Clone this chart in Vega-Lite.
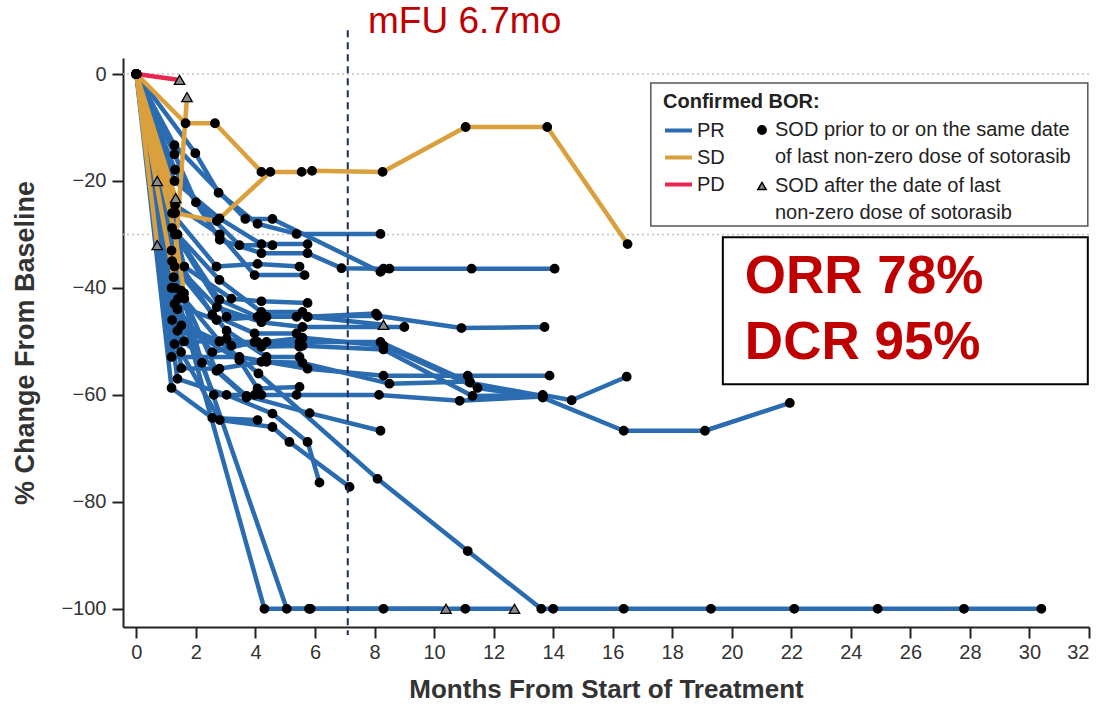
{
"$schema":"https://vega.github.io/schema/vega-lite/v6.json",
"width":966,"height":569,
"autosize":{"type":"none"},
"padding":{"left":123,"top":58,"right":12,"bottom":77},
"background":"white",
"config":{
 "view":{"stroke":null},
 "font":"Liberation Sans",
 "axis":{"domainColor":"#222","domainWidth":2,"tickColor":"#222","tickWidth":2,"tickSize":11,"labelFont":"Liberation Sans","labelFontSize":20,"labelColor":"#333","titleFont":"Liberation Sans","titleFontWeight":"bold","titleColor":"#333","grid":false},
 "legend":{"labelFont":"Liberation Sans","labelFontSize":20,"labelColor":"#222","labelLimit":0,"titleFont":"Liberation Sans","titleFontSize":20,"titleFontWeight":"bold","titleColor":"#222"},
 "style":{"guide-label":{"lineHeight":27}}
},
"datasets":{"spider":[
{"id":"B1","bor":"PR","m":0,"p":0,"mk":"dot"},{"id":"B1","bor":"PR","m":1.98,"p":-14.8,"mk":"dot"},{"id":"B1","bor":"PR","m":2.76,"p":-22.2,"mk":"dot"},{"id":"B1","bor":"PR","m":4.07,"p":-28,"mk":"dot"},{"id":"B1","bor":"PR","m":5.38,"p":-29.9,"mk":"dot"},{"id":"B1","bor":"PR","m":8.2,"p":-29.9,"mk":"dot"},
{"id":"B2","bor":"PR","m":0,"p":0,"mk":"dot"},{"id":"B2","bor":"PR","m":1.28,"p":-13.3,"mk":"dot"},{"id":"B2","bor":"PR","m":3.66,"p":-27.1,"mk":"dot"},{"id":"B2","bor":"PR","m":4.57,"p":-27.1,"mk":"dot"},{"id":"B2","bor":"PR","m":8.2,"p":-37,"mk":"dot"},
{"id":"B3","bor":"PR","m":0,"p":0,"mk":"dot"},{"id":"B3","bor":"PR","m":1.3,"p":-17.9,"mk":"dot"},{"id":"B3","bor":"PR","m":2.8,"p":-31,"mk":"dot"},{"id":"B3","bor":"PR","m":4.2,"p":-33.5,"mk":"dot"},{"id":"B3","bor":"PR","m":5.75,"p":-33.5,"mk":"dot"},{"id":"B3","bor":"PR","m":6.89,"p":-36.3,"mk":"dot"},{"id":"B3","bor":"PR","m":8.3,"p":-36.4,"mk":"dot"},{"id":"B3","bor":"PR","m":8.5,"p":-36.4,"mk":"dot"},{"id":"B3","bor":"PR","m":11.26,"p":-36.4,"mk":"dot"},{"id":"B3","bor":"PR","m":14.05,"p":-36.4,"mk":"dot"},
{"id":"B4","bor":"PR","m":0,"p":0,"mk":"dot"},{"id":"B4","bor":"PR","m":1.3,"p":-24.5,"mk":"dot"},{"id":"B4","bor":"PR","m":2.8,"p":-30,"mk":"dot"},{"id":"B4","bor":"PR","m":3.97,"p":-37.6,"mk":"dot"},{"id":"B4","bor":"PR","m":5.65,"p":-37.6,"mk":"dot"},
{"id":"B5","bor":"PR","m":0,"p":0,"mk":"dot"},{"id":"B5","bor":"PR","m":1.2,"p":-28.8,"mk":"dot"},{"id":"B5","bor":"PR","m":2.79,"p":-42.2,"mk":"dot"},{"id":"B5","bor":"PR","m":4.07,"p":-45.4,"mk":"dot"},{"id":"B5","bor":"PR","m":5.38,"p":-45.4,"mk":"dot"},{"id":"B5","bor":"PR","m":8.1,"p":-45.2,"mk":"dot"},{"id":"B5","bor":"PR","m":10.92,"p":-47.5,"mk":"dot"},{"id":"B5","bor":"PR","m":13.71,"p":-47.3,"mk":"dot"},
{"id":"B6","bor":"PR","m":0,"p":0,"mk":"dot"},{"id":"B6","bor":"PR","m":1.3,"p":-30,"mk":"dot"},{"id":"B6","bor":"PR","m":3.03,"p":-45.4,"mk":"dot"},{"id":"B6","bor":"PR","m":4.37,"p":-45.4,"mk":"dot"},{"id":"B6","bor":"PR","m":5.75,"p":-45.4,"mk":"dot"},{"id":"B6","bor":"PR","m":8.3,"p":-46.9,"mk":"tri"},
{"id":"B7","bor":"PR","m":0,"p":0,"mk":"dot"},{"id":"B7","bor":"PR","m":1.2,"p":-35,"mk":"dot"},{"id":"B7","bor":"PR","m":2.7,"p":-43.6,"mk":"dot"},{"id":"B7","bor":"PR","m":4.2,"p":-46.4,"mk":"dot"},{"id":"B7","bor":"PR","m":5.58,"p":-47.3,"mk":"dot"},{"id":"B7","bor":"PR","m":9.0,"p":-47.3,"mk":"dot"},
{"id":"B8","bor":"PR","m":0,"p":0,"mk":"dot"},{"id":"B8","bor":"PR","m":1.28,"p":-43,"mk":"dot"},{"id":"B8","bor":"PR","m":2.69,"p":-46,"mk":"dot"},{"id":"B8","bor":"PR","m":4.2,"p":-45.4,"mk":"dot"},{"id":"B8","bor":"PR","m":5.75,"p":-45.4,"mk":"dot"},{"id":"B8","bor":"PR","m":8.05,"p":-44.8,"mk":"dot"},
{"id":"B9","bor":"PR","m":0,"p":0,"mk":"dot"},{"id":"B9","bor":"PR","m":1.2,"p":-46,"mk":"dot"},{"id":"B9","bor":"PR","m":2.79,"p":-50,"mk":"dot"},{"id":"B9","bor":"PR","m":4.07,"p":-50.1,"mk":"dot"},{"id":"B9","bor":"PR","m":5.48,"p":-50.1,"mk":"dot"},{"id":"B9","bor":"PR","m":8.2,"p":-50.1,"mk":"dot"},{"id":"B9","bor":"PR","m":11.2,"p":-57.7,"mk":"dot"},{"id":"B9","bor":"PR","m":13.65,"p":-60.2,"mk":"dot"},
{"id":"B10","bor":"PR","m":0,"p":0,"mk":"dot"},{"id":"B10","bor":"PR","m":1.38,"p":-48,"mk":"dot"},{"id":"B10","bor":"PR","m":3.19,"p":-50.8,"mk":"dot"},{"id":"B10","bor":"PR","m":4.37,"p":-50.1,"mk":"dot"},{"id":"B10","bor":"PR","m":5.58,"p":-49.3,"mk":"dot"},{"id":"B10","bor":"PR","m":8.3,"p":-50.8,"mk":"dot"},{"id":"B10","bor":"PR","m":11.46,"p":-58.7,"mk":"dot"},{"id":"B10","bor":"PR","m":13.65,"p":-60.5,"mk":"dot"},{"id":"B10","bor":"PR","m":16.37,"p":-66.7,"mk":"dot"},{"id":"B10","bor":"PR","m":19.1,"p":-66.7,"mk":"dot"},{"id":"B10","bor":"PR","m":21.95,"p":-61.5,"mk":"dot"},
{"id":"B11","bor":"PR","m":0,"p":0,"mk":"dot"},{"id":"B11","bor":"PR","m":1.28,"p":-50.5,"mk":"dot"},{"id":"B11","bor":"PR","m":3.03,"p":-49.5,"mk":"dot"},{"id":"B11","bor":"PR","m":4.2,"p":-51,"mk":"dot"},{"id":"B11","bor":"PR","m":5.58,"p":-50.8,"mk":"dot"},{"id":"B11","bor":"PR","m":8.3,"p":-51.5,"mk":"dot"},{"id":"B11","bor":"PR","m":11.29,"p":-60.2,"mk":"dot"},{"id":"B11","bor":"PR","m":13.65,"p":-60,"mk":"dot"},{"id":"B11","bor":"PR","m":14.62,"p":-61,"mk":"dot"},{"id":"B11","bor":"PR","m":16.47,"p":-56.6,"mk":"dot"},
{"id":"B12","bor":"PR","m":0,"p":0,"mk":"dot"},{"id":"B12","bor":"PR","m":1.18,"p":-52.9,"mk":"dot"},{"id":"B12","bor":"PR","m":3.46,"p":-52.9,"mk":"dot"},{"id":"B12","bor":"PR","m":4.37,"p":-53.8,"mk":"dot"},{"id":"B12","bor":"PR","m":5.75,"p":-55.1,"mk":"dot"},{"id":"B12","bor":"PR","m":8.3,"p":-56.4,"mk":"dot"},{"id":"B12","bor":"PR","m":11.13,"p":-56.4,"mk":"dot"},{"id":"B12","bor":"PR","m":13.88,"p":-56.4,"mk":"dot"},
{"id":"B13","bor":"PR","m":0,"p":0,"mk":"dot"},{"id":"B13","bor":"PR","m":1.51,"p":-55,"mk":"dot"},{"id":"B13","bor":"PR","m":2.79,"p":-55.1,"mk":"dot"},{"id":"B13","bor":"PR","m":4.2,"p":-53.8,"mk":"dot"},{"id":"B13","bor":"PR","m":5.58,"p":-54,"mk":"dot"},{"id":"B13","bor":"PR","m":8.5,"p":-57.9,"mk":"dot"},{"id":"B13","bor":"PR","m":11.2,"p":-57.5,"mk":"dot"},
{"id":"B14","bor":"PR","m":0,"p":0,"mk":"dot"},{"id":"B14","bor":"PR","m":1.18,"p":-40,"mk":"dot"},{"id":"B14","bor":"PR","m":2.6,"p":-60,"mk":"dot"},{"id":"B14","bor":"PR","m":3.97,"p":-60,"mk":"dot"},{"id":"B14","bor":"PR","m":5.38,"p":-60,"mk":"dot"},{"id":"B14","bor":"PR","m":8.15,"p":-60,"mk":"dot"},{"id":"B14","bor":"PR","m":10.86,"p":-61.1,"mk":"dot"},{"id":"B14","bor":"PR","m":13.65,"p":-60.3,"mk":"dot"},
{"id":"B15","bor":"PR","m":0,"p":0,"mk":"dot"},{"id":"B15","bor":"PR","m":1.18,"p":-58.7,"mk":"dot"},{"id":"B15","bor":"PR","m":2.55,"p":-64.3,"mk":"dot"},{"id":"B15","bor":"PR","m":4.07,"p":-64.7,"mk":"dot"},
{"id":"B16","bor":"PR","m":0,"p":0,"mk":"dot"},{"id":"B16","bor":"PR","m":1.6,"p":-50,"mk":"dot"},{"id":"B16","bor":"PR","m":3.7,"p":-60.2,"mk":"dot"},{"id":"B16","bor":"PR","m":5.82,"p":-63.4,"mk":"dot"},{"id":"B16","bor":"PR","m":8.2,"p":-66.7,"mk":"dot"},
{"id":"B17","bor":"PR","m":0,"p":0,"mk":"dot"},{"id":"B17","bor":"PR","m":1.5,"p":-52,"mk":"dot"},{"id":"B17","bor":"PR","m":2.8,"p":-64.7,"mk":"dot"},{"id":"B17","bor":"PR","m":4.57,"p":-66,"mk":"dot"},{"id":"B17","bor":"PR","m":5.14,"p":-68.8,"mk":"dot"},{"id":"B17","bor":"PR","m":7.16,"p":-77.2,"mk":"dot"},
{"id":"B18","bor":"PR","m":0,"p":0,"mk":"dot"},{"id":"B18","bor":"PR","m":1.38,"p":-57,"mk":"dot"},{"id":"B18","bor":"PR","m":3.03,"p":-60,"mk":"dot"},{"id":"B18","bor":"PR","m":4.57,"p":-63.5,"mk":"dot"},{"id":"B18","bor":"PR","m":5.75,"p":-68.8,"mk":"dot"},{"id":"B18","bor":"PR","m":6.15,"p":-76.4,"mk":"dot"},
{"id":"B19","bor":"PR","m":0,"p":0,"mk":"dot"},{"id":"B19","bor":"PR","m":1.4,"p":-42,"mk":"dot"},{"id":"B19","bor":"PR","m":4.3,"p":-100,"mk":"dot"},{"id":"B19","bor":"PR","m":5.8,"p":-100,"mk":"dot"},{"id":"B19","bor":"PR","m":8.3,"p":-100,"mk":"dot"},{"id":"B19","bor":"PR","m":11.05,"p":-100,"mk":"dot"},{"id":"B19","bor":"PR","m":12.7,"p":-100,"mk":"tri"},
{"id":"B20","bor":"PR","m":0,"p":0,"mk":"dot"},{"id":"B20","bor":"PR","m":1.5,"p":-40.5,"mk":"dot"},{"id":"B20","bor":"PR","m":2.2,"p":-54,"mk":"dot"},{"id":"B20","bor":"PR","m":5.05,"p":-100,"mk":"dot"},{"id":"B20","bor":"PR","m":5.85,"p":-100,"mk":"dot"},{"id":"B20","bor":"PR","m":10.4,"p":-100,"mk":"tri"},
{"id":"B21","bor":"PR","m":0,"p":0,"mk":"dot"},{"id":"B21","bor":"PR","m":1.3,"p":-40,"mk":"dot"},{"id":"B21","bor":"PR","m":2.8,"p":-50,"mk":"dot"},{"id":"B21","bor":"PR","m":4.1,"p":-56,"mk":"dot"},{"id":"B21","bor":"PR","m":8.1,"p":-75.7,"mk":"dot"},{"id":"B21","bor":"PR","m":11.13,"p":-89.2,"mk":"dot"},{"id":"B21","bor":"PR","m":13.6,"p":-100,"mk":"dot"},{"id":"B21","bor":"PR","m":14.0,"p":-100,"mk":"dot"},{"id":"B21","bor":"PR","m":16.37,"p":-100,"mk":"dot"},{"id":"B21","bor":"PR","m":19.3,"p":-100,"mk":"dot"},{"id":"B21","bor":"PR","m":22.1,"p":-100,"mk":"dot"},{"id":"B21","bor":"PR","m":24.9,"p":-100,"mk":"dot"},{"id":"B21","bor":"PR","m":27.8,"p":-100,"mk":"dot"},{"id":"B21","bor":"PR","m":30.4,"p":-100,"mk":"dot"},
{"id":"B22","bor":"PR","m":0,"p":0,"mk":"dot"},{"id":"B22","bor":"PR","m":1.28,"p":-20,"mk":"dot"},{"id":"B22","bor":"PR","m":2.79,"p":-27,"mk":"dot"},{"id":"B22","bor":"PR","m":4.2,"p":-31.8,"mk":"dot"},{"id":"B22","bor":"PR","m":5.75,"p":-31.8,"mk":"dot"},
{"id":"B23","bor":"PR","m":0,"p":0,"mk":"dot"},{"id":"B23","bor":"PR","m":1.2,"p":-26,"mk":"dot"},{"id":"B23","bor":"PR","m":2.69,"p":-36,"mk":"dot"},{"id":"B23","bor":"PR","m":4.07,"p":-35.5,"mk":"dot"},{"id":"B23","bor":"PR","m":5.48,"p":-36,"mk":"dot"},
{"id":"B24","bor":"PR","m":0,"p":0,"mk":"dot"},{"id":"B24","bor":"PR","m":1.38,"p":-30,"mk":"dot"},{"id":"B24","bor":"PR","m":2.79,"p":-38.5,"mk":"dot"},{"id":"B24","bor":"PR","m":4.2,"p":-44.5,"mk":"dot"},{"id":"B24","bor":"PR","m":5.58,"p":-44.5,"mk":"dot"},
{"id":"B25","bor":"PR","m":0,"p":0,"mk":"dot"},{"id":"B25","bor":"PR","m":1.18,"p":-33,"mk":"dot"},{"id":"B25","bor":"PR","m":2.55,"p":-45,"mk":"dot"},{"id":"B25","bor":"PR","m":3.97,"p":-48.5,"mk":"dot"},{"id":"B25","bor":"PR","m":5.38,"p":-48.5,"mk":"dot"},
{"id":"B26","bor":"PR","m":0,"p":0,"mk":"dot"},{"id":"B26","bor":"PR","m":1.28,"p":-36,"mk":"dot"},{"id":"B26","bor":"PR","m":3.03,"p":-48,"mk":"dot"},{"id":"B26","bor":"PR","m":4.37,"p":-52.9,"mk":"dot"},{"id":"B26","bor":"PR","m":5.48,"p":-52.9,"mk":"dot"},
{"id":"B27","bor":"PR","m":0,"p":0,"mk":"dot"},{"id":"B27","bor":"PR","m":1.51,"p":-47,"mk":"dot"},{"id":"B27","bor":"PR","m":3.46,"p":-53.5,"mk":"dot"},{"id":"B27","bor":"PR","m":4.07,"p":-58.8,"mk":"dot"},{"id":"B27","bor":"PR","m":5.48,"p":-58.5,"mk":"dot"},
{"id":"B28","bor":"PR","m":0,"p":0,"mk":"dot"},{"id":"B28","bor":"PR","m":1.61,"p":-42,"mk":"dot"},{"id":"B28","bor":"PR","m":2.69,"p":-55.5,"mk":"dot"},{"id":"B28","bor":"PR","m":3.7,"p":-60.5,"mk":"dot"},{"id":"B28","bor":"PR","m":4.2,"p":-60,"mk":"dot"},
{"id":"B29","bor":"PR","m":0,"p":0,"mk":"dot"},{"id":"B29","bor":"PR","m":1.38,"p":-44,"mk":"dot"},{"id":"B29","bor":"PR","m":2.55,"p":-52,"mk":"dot"},{"id":"B29","bor":"PR","m":3.97,"p":-50.1,"mk":"dot"},{"id":"B29","bor":"PR","m":5.48,"p":-51,"mk":"dot"},
{"id":"B30","bor":"PR","m":0,"p":0,"mk":"dot"},{"id":"B30","bor":"PR","m":1.28,"p":-15,"mk":"dot"},{"id":"B30","bor":"PR","m":2.0,"p":-24,"mk":"dot"},{"id":"B30","bor":"PR","m":3.46,"p":-32,"mk":"dot"},{"id":"B30","bor":"PR","m":4.57,"p":-32,"mk":"dot"},
{"id":"B31","bor":"PR","m":0,"p":0,"mk":"dot"},{"id":"B31","bor":"PR","m":1.61,"p":-36,"mk":"dot"},{"id":"B31","bor":"PR","m":3.19,"p":-42,"mk":"dot"},{"id":"B31","bor":"PR","m":4.2,"p":-42.5,"mk":"dot"},{"id":"B31","bor":"PR","m":5.75,"p":-42.8,"mk":"dot"},
{"id":"S1","bor":"SD","m":0,"p":0,"mk":"dot"},{"id":"S1","bor":"SD","m":1.65,"p":-9.2,"mk":"dot"},{"id":"S1","bor":"SD","m":2.64,"p":-9.2,"mk":"dot"},{"id":"S1","bor":"SD","m":4.2,"p":-18.3,"mk":"dot"},
{"id":"S2","bor":"SD","m":0,"p":0,"mk":"dot"},{"id":"S2","bor":"SD","m":1.3,"p":-26,"mk":"dot"},{"id":"S2","bor":"SD","m":2.7,"p":-27.5,"mk":"dot"},{"id":"S2","bor":"SD","m":4.5,"p":-18.3,"mk":"dot"},{"id":"S2","bor":"SD","m":5.55,"p":-18.3,"mk":"dot"},{"id":"S2","bor":"SD","m":5.9,"p":-18.1,"mk":"dot"},{"id":"S2","bor":"SD","m":8.27,"p":-18.3,"mk":"dot"},{"id":"S2","bor":"SD","m":11.06,"p":-9.9,"mk":"dot"},{"id":"S2","bor":"SD","m":13.8,"p":-9.9,"mk":"dot"},{"id":"S2","bor":"SD","m":16.5,"p":-31.8,"mk":"dot"},
{"id":"S3","bor":"SD","m":0,"p":0,"mk":"dot"},{"id":"S3","bor":"SD","m":0.7,"p":-20,"mk":"tri"},
{"id":"S4","bor":"SD","m":0,"p":0,"mk":"dot"},{"id":"S4","bor":"SD","m":0.7,"p":-32,"mk":"tri"},
{"id":"S5","bor":"SD","m":0,"p":0,"mk":"dot"},{"id":"S5","bor":"SD","m":1.32,"p":-23.2,"mk":"tri"},
{"id":"S6","bor":"SD","m":0,"p":0,"mk":"dot"},{"id":"S6","bor":"SD","m":1.25,"p":-38,"mk":"dot"},{"id":"S6","bor":"SD","m":1.7,"p":-4.3,"mk":"tri"},
{"id":"S7","bor":"SD","m":0,"p":0,"mk":"dot"},{"id":"S7","bor":"SD","m":1.3,"p":-30,"mk":"dot"},{"id":"S7","bor":"SD","m":1.6,"p":-41,"mk":"dot"},
{"id":"D1","bor":"PD","m":0,"p":0,"mk":"dot"},{"id":"D1","bor":"PD","m":1.45,"p":-1.1,"mk":"tri"}
]},
"layer":[
 {"data":{"values":[{}]},"mark":{"type":"rule","color":"#c4c4c4","strokeDash":[2,3],"strokeWidth":1.5},"encoding":{"y":{"datum":0}}},
 {"data":{"values":[{}]},"mark":{"type":"rule","color":"#c4c4c4","strokeDash":[2,3],"strokeWidth":1.5},"encoding":{"y":{"datum":-30}}},
 {"data":{"name":"spider"},"transform":[{"filter":"datum.bor == 'PR'"}],
  "mark":{"type":"line","strokeWidth":4.5,"strokeJoin":"round"},
  "encoding":{
   "x":{"field":"m","type":"quantitative","scale":{"domain":[-0.45,32],"nice":false,"zero":false},
        "axis":{"title":"Months From Start of Treatment","values":[0,2,4,6,8,10,12,14,16,18,20,22,24,26,28,30,32],"titleFontSize":26,"titlePadding":14,"labelPadding":4}},
   "y":{"field":"p","type":"quantitative","scale":{"domain":[-103.4,3],"nice":false,"zero":false},
        "axis":{"title":"% Change From Baseline","values":[0,-20,-40,-60,-80,-100],"titleFontSize":27,"titlePadding":21,"labelPadding":6}},
   "color":{"field":"bor","type":"nominal","scale":{"domain":["PR","SD","PD"],"range":["#2B6CB0","#DAA03E","#E8264F"]},
        "legend":{"title":"Confirmed BOR:","orient":"none","legendX":540,"legendY":34,"symbolType":"stroke","symbolSize":729,"symbolStrokeWidth":4,"labelOffset":3,"rowPadding":1,"titlePadding":3,"padding":0}},
   "detail":{"field":"id"}
  }},
 {"data":{"name":"spider"},"transform":[{"filter":"datum.bor == 'SD'"}],
  "mark":{"type":"line","strokeWidth":4.5,"strokeJoin":"round"},
  "encoding":{"x":{"field":"m","type":"quantitative"},"y":{"field":"p","type":"quantitative"},"color":{"field":"bor","type":"nominal"},"detail":{"field":"id"}}},
 {"data":{"name":"spider"},"transform":[{"filter":"datum.bor == 'PD'"}],
  "mark":{"type":"line","strokeWidth":4.5,"strokeJoin":"round"},
  "encoding":{"x":{"field":"m","type":"quantitative"},"y":{"field":"p","type":"quantitative"},"color":{"field":"bor","type":"nominal"},"detail":{"field":"id"}}},
 {"data":{"name":"spider"},"transform":[{"filter":"datum.mk == 'dot'"}],
  "mark":{"type":"point","filled":true,"stroke":"#000","strokeWidth":1.3,"opacity":1,"size":72},
  "encoding":{"x":{"field":"m","type":"quantitative"},"y":{"field":"p","type":"quantitative"},
   "shape":{"field":"mk","type":"nominal","scale":{"domain":["dot","tri"],"range":["circle","triangle-up"]},
     "legend":{"title":null,"orient":"none","legendX":629,"legendY":62,"padding":0,"labelOffset":3,"rowPadding":9,"symbolSize":70,
       "encode":{"symbols":{"update":{"stroke":{"value":"#000"},"strokeWidth":{"value":1.3},"size":{"signal":"datum.value == 'tri' ? 85 : 55"}}}},
       "labelExpr":"datum.value == 'dot' ? ['SOD prior to or on the same date','of last non-zero dose of sotorasib'] : ['SOD after the date of last','non-zero dose of sotorasib']"}},
   "fill":{"field":"mk","type":"nominal","scale":{"domain":["dot","tri"],"range":["#000000","#8a8a8a"]},
     "legend":{"title":null,"orient":"none","legendX":629,"legendY":62,"padding":0,"labelOffset":3,"rowPadding":9,"symbolSize":70,
       "encode":{"symbols":{"update":{"stroke":{"value":"#000"},"strokeWidth":{"value":1.3},"size":{"signal":"datum.value == 'tri' ? 85 : 55"}}}},
       "labelExpr":"datum.value == 'dot' ? ['SOD prior to or on the same date','of last non-zero dose of sotorasib'] : ['SOD after the date of last','non-zero dose of sotorasib']"}}
  }},
 {"data":{"name":"spider"},"transform":[{"filter":"datum.mk == 'tri'"}],
  "mark":{"type":"point","filled":true,"stroke":"#000","strokeWidth":1.3,"opacity":1,"size":110},
  "encoding":{"x":{"field":"m","type":"quantitative"},"y":{"field":"p","type":"quantitative"},
   "shape":{"field":"mk","type":"nominal"},
   "fill":{"field":"mk","type":"nominal"}
  }},
 {"data":{"values":[{}]},"mark":{"type":"rule","color":"#1A2A5E","strokeDash":[7,5],"strokeWidth":2},"encoding":{"x":{"datum":7.1},"y":{"datum":8.2},"y2":{"datum":-104.9}}},
 {"data":{"values":[{}]},"mark":{"type":"text","align":"left","baseline":"middle","fontSize":37,"font":"Liberation Sans","color":"#C00000"},"encoding":{"x":{"datum":7.78},"y":{"datum":9.7},"text":{"value":"mFU 6.7mo"}}},
 {"data":{"values":[{}]},"mark":{"type":"rect","fill":"white","fillOpacity":0,"stroke":"#555","strokeWidth":1.5},"encoding":{"x":{"datum":17.28},"x2":{"datum":31.96},"y":{"datum":-1.68},"y2":{"datum":-28.4}}},
 {"data":{"values":[{}]},"mark":{"type":"rect","fill":"white","stroke":"#000","strokeWidth":2},"encoding":{"x":{"datum":19.7},"x2":{"datum":31.96},"y":{"datum":-30.5},"y2":{"datum":-58.0}}},
 {"data":{"values":[{}]},"mark":{"type":"text","align":"left","baseline":"middle","fontSize":53,"fontWeight":"bold","font":"Liberation Sans","color":"#C00000"},"encoding":{"x":{"datum":20.44},"y":{"datum":-37.9},"text":{"value":"ORR 78%"}}},
 {"data":{"values":[{}]},"mark":{"type":"text","align":"left","baseline":"middle","fontSize":53,"fontWeight":"bold","font":"Liberation Sans","color":"#C00000"},"encoding":{"x":{"datum":20.44},"y":{"datum":-50.3},"text":{"value":"DCR 95%"}}}
]
}
